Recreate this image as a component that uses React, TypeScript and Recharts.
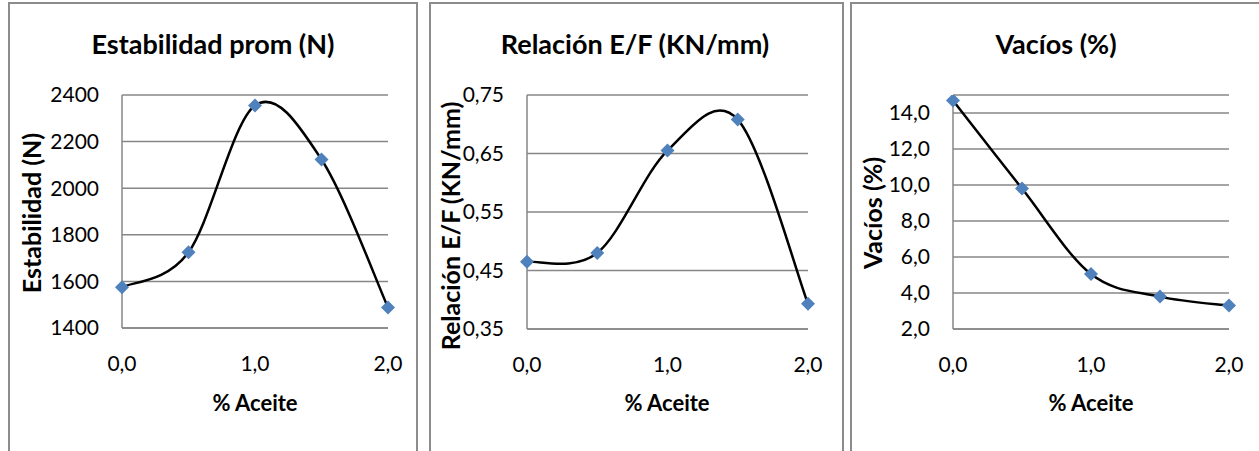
import React from 'react';
import { LineChart, Line, XAxis, YAxis, CartesianGrid } from 'recharts';

// ---- data ----
const aceite = [0, 0.5, 1.0, 1.5, 2.0];
const estabilidad = [1575, 1725, 2355, 2123, 1488];
const relacionEF = [0.465, 0.48, 0.655, 0.708, 0.393];
const vacios = [14.7, 9.8, 5.05, 3.8, 3.3];
const xTicks = [0, 1, 2];
const estabilidadTicks = [1400, 1600, 1800, 2000, 2200, 2400];
const relacionTicks = [0.35, 0.45, 0.55, 0.65, 0.75];
const vaciosTicks = [2, 4, 6, 8, 10, 12, 14];

const FONT = 'Lato, "Open Sans", sans-serif';
const GRID = '#878787';
const BORDER = '#8c8c8c';
const MARKER = '#4F81BD';
const Y_AXIS_W = 60;
const X_AXIS_H = 40;

// Excel-like smoothed line (Catmull-Rom Bezier)
function excelCurve(context: any) {
  let xs: number[] = [];
  let ys: number[] = [];
  return {
    areaStart() {},
    areaEnd() {},
    lineStart() {
      xs = [];
      ys = [];
    },
    lineEnd() {
      const n = xs.length;
      if (!n) return;
      context.moveTo(xs[0], ys[0]);
      for (let i = 0; i < n - 1; i++) {
        const a = Math.max(i - 1, 0);
        const d = Math.min(i + 2, n - 1);
        const c1x = xs[i] + (xs[i + 1] - xs[a]) / 6;
        const c1y = ys[i] + (ys[i + 1] - ys[a]) / 6;
        const c2x = xs[i + 1] - (xs[d] - xs[i]) / 6;
        const c2y = ys[i + 1] - (ys[d] - ys[i]) / 6;
        context.bezierCurveTo(c1x, c1y, c2x, c2y, xs[i + 1], ys[i + 1]);
      }
    },
    point(x: number, y: number) {
      xs.push(+x);
      ys.push(+y);
    },
  };
}

const Diamond = (props: any) => {
  const { cx, cy, index } = props;
  const r = 7;
  return (
    <path
      key={`d-${index}`}
      d={`M${cx},${cy - r}L${cx + r},${cy}L${cx},${cy + r}L${cx - r},${cy}Z`}
      fill={MARKER}
    />
  );
};

const comma = (digits: number) => (v: number) => v.toFixed(digits).replace('.', ',');

type PanelProps = {
  left: number;
  width: number;
  plot: { top: number; left: number; right: number; bottom: number };
  values: number[];
  domain: [number, number];
  ticks: number[];
  yDigits: number;
  title: string;
  yTitle: string;
  titleX: number;
  yTitleX: number;
  yTitleY: number;
  xTitleX: number;
};

function Panel(p: PanelProps) {
  const data = aceite.map((x, i) => ({ x, y: p.values[i] }));
  const margin = {
    top: p.plot.top,
    left: p.plot.left - Y_AXIS_W,
    right: p.plot.right,
    bottom: p.plot.bottom - X_AXIS_H,
  };
  return (
    <div style={{ position: 'absolute', left: p.left, top: 0, width: p.width, height: 451 }}>
      <LineChart width={p.width} height={451} data={data} margin={margin}>
        <CartesianGrid vertical={false} stroke={GRID} strokeWidth={1.5} />
        <XAxis
          dataKey="x"
          type="number"
          domain={[0, 2]}
          ticks={xTicks}
          tickFormatter={comma(1)}
          height={X_AXIS_H}
          tickLine={false}
          tickSize={0}
          tickMargin={28}
          axisLine={{ stroke: GRID, strokeWidth: 1.5 }}
          tick={{ fill: '#000', fontSize: 21, fontFamily: FONT }}
        />
        <YAxis
          type="number"
          domain={p.domain}
          ticks={p.ticks}
          tickFormatter={comma(p.yDigits)}
          width={Y_AXIS_W}
          tickLine={false}
          tickSize={0}
          tickMargin={23}
          allowDataOverflow
          axisLine={{ stroke: GRID, strokeWidth: 1.5 }}
          tick={{ fill: '#000', fontSize: 21, fontFamily: FONT }}
        />
        <Line
          dataKey="y"
          type={excelCurve as any}
          stroke="#000"
          strokeWidth={2.5}
          dot={Diamond}
          activeDot={false}
          isAnimationActive={false}
        />
      </LineChart>
      <div style={{ position: 'absolute', left: p.titleX, top: 43, transform: 'translate(-50%,-50%)', whiteSpace: 'nowrap', fontFamily: FONT, fontWeight: 700, fontSize: 27, lineHeight: 1, color: '#000' }}>
        {p.title}
      </div>
      <div style={{ position: 'absolute', left: p.yTitleX, top: p.yTitleY, transform: 'translate(-50%,-50%) rotate(-90deg)', whiteSpace: 'nowrap', fontFamily: FONT, fontWeight: 700, fontSize: 25, lineHeight: 1, color: '#000' }}>
        {p.yTitle}
      </div>
      <div style={{ position: 'absolute', left: p.xTitleX, top: 403, transform: 'translate(-50%,-50%)', whiteSpace: 'nowrap', fontFamily: FONT, fontWeight: 700, fontSize: 22, lineHeight: 1, color: '#000' }}>
        % Aceite
      </div>
    </div>
  );
}

export default function App() {
  return (
    <div style={{ position: 'absolute', left: 0, top: 0, width: 1259, height: 451, overflow: 'hidden', background: '#fff' }}>
      <div style={{ position: 'absolute', left: 8, top: 2, width: 406, height: 470, borderLeft: `2px solid ${BORDER}`, borderTop: `2px solid ${BORDER}`, borderRight: `2px solid ${BORDER}` }} />
      <div style={{ position: 'absolute', left: 429, top: 2, width: 411, height: 470, borderLeft: `2px solid ${BORDER}`, borderTop: `2px solid ${BORDER}`, borderRight: `2px solid ${BORDER}` }} />
      <div style={{ position: 'absolute', left: 850, top: 2, width: 420, height: 470, borderLeft: `2px solid ${BORDER}`, borderTop: `2px solid ${BORDER}` }} />
      <Panel
        left={0}
        width={420}
        plot={{ top: 95, left: 122, right: 32, bottom: 123 }}
        values={estabilidad}
        domain={[1400, 2400]}
        ticks={estabilidadTicks}
        yDigits={0}
        title="Estabilidad prom (N)"
        yTitle="Estabilidad (N)"
        titleX={213}
        yTitleX={31}
        yTitleY={213}
        xTitleX={255}
      />
      <Panel
        left={420}
        width={426}
        plot={{ top: 95, left: 107, right: 38, bottom: 122 }}
        values={relacionEF}
        domain={[0.35, 0.75]}
        ticks={relacionTicks}
        yDigits={2}
        title="Relación E/F (KN/mm)"
        yTitle="Relación E/F (KN/mm)"
        titleX={215}
        yTitleX={30}
        yTitleY={226}
        xTitleX={247}
      />
      <Panel
        left={846}
        width={413}
        plot={{ top: 95, left: 107, right: 30, bottom: 122 }}
        values={vacios}
        domain={[2, 15]}
        ticks={vaciosTicks}
        yDigits={1}
        title="Vacíos (%)"
        yTitle="Vacíos (%)"
        titleX={210}
        yTitleX={26}
        yTitleY={213}
        xTitleX={245}
      />
    </div>
  );
}
